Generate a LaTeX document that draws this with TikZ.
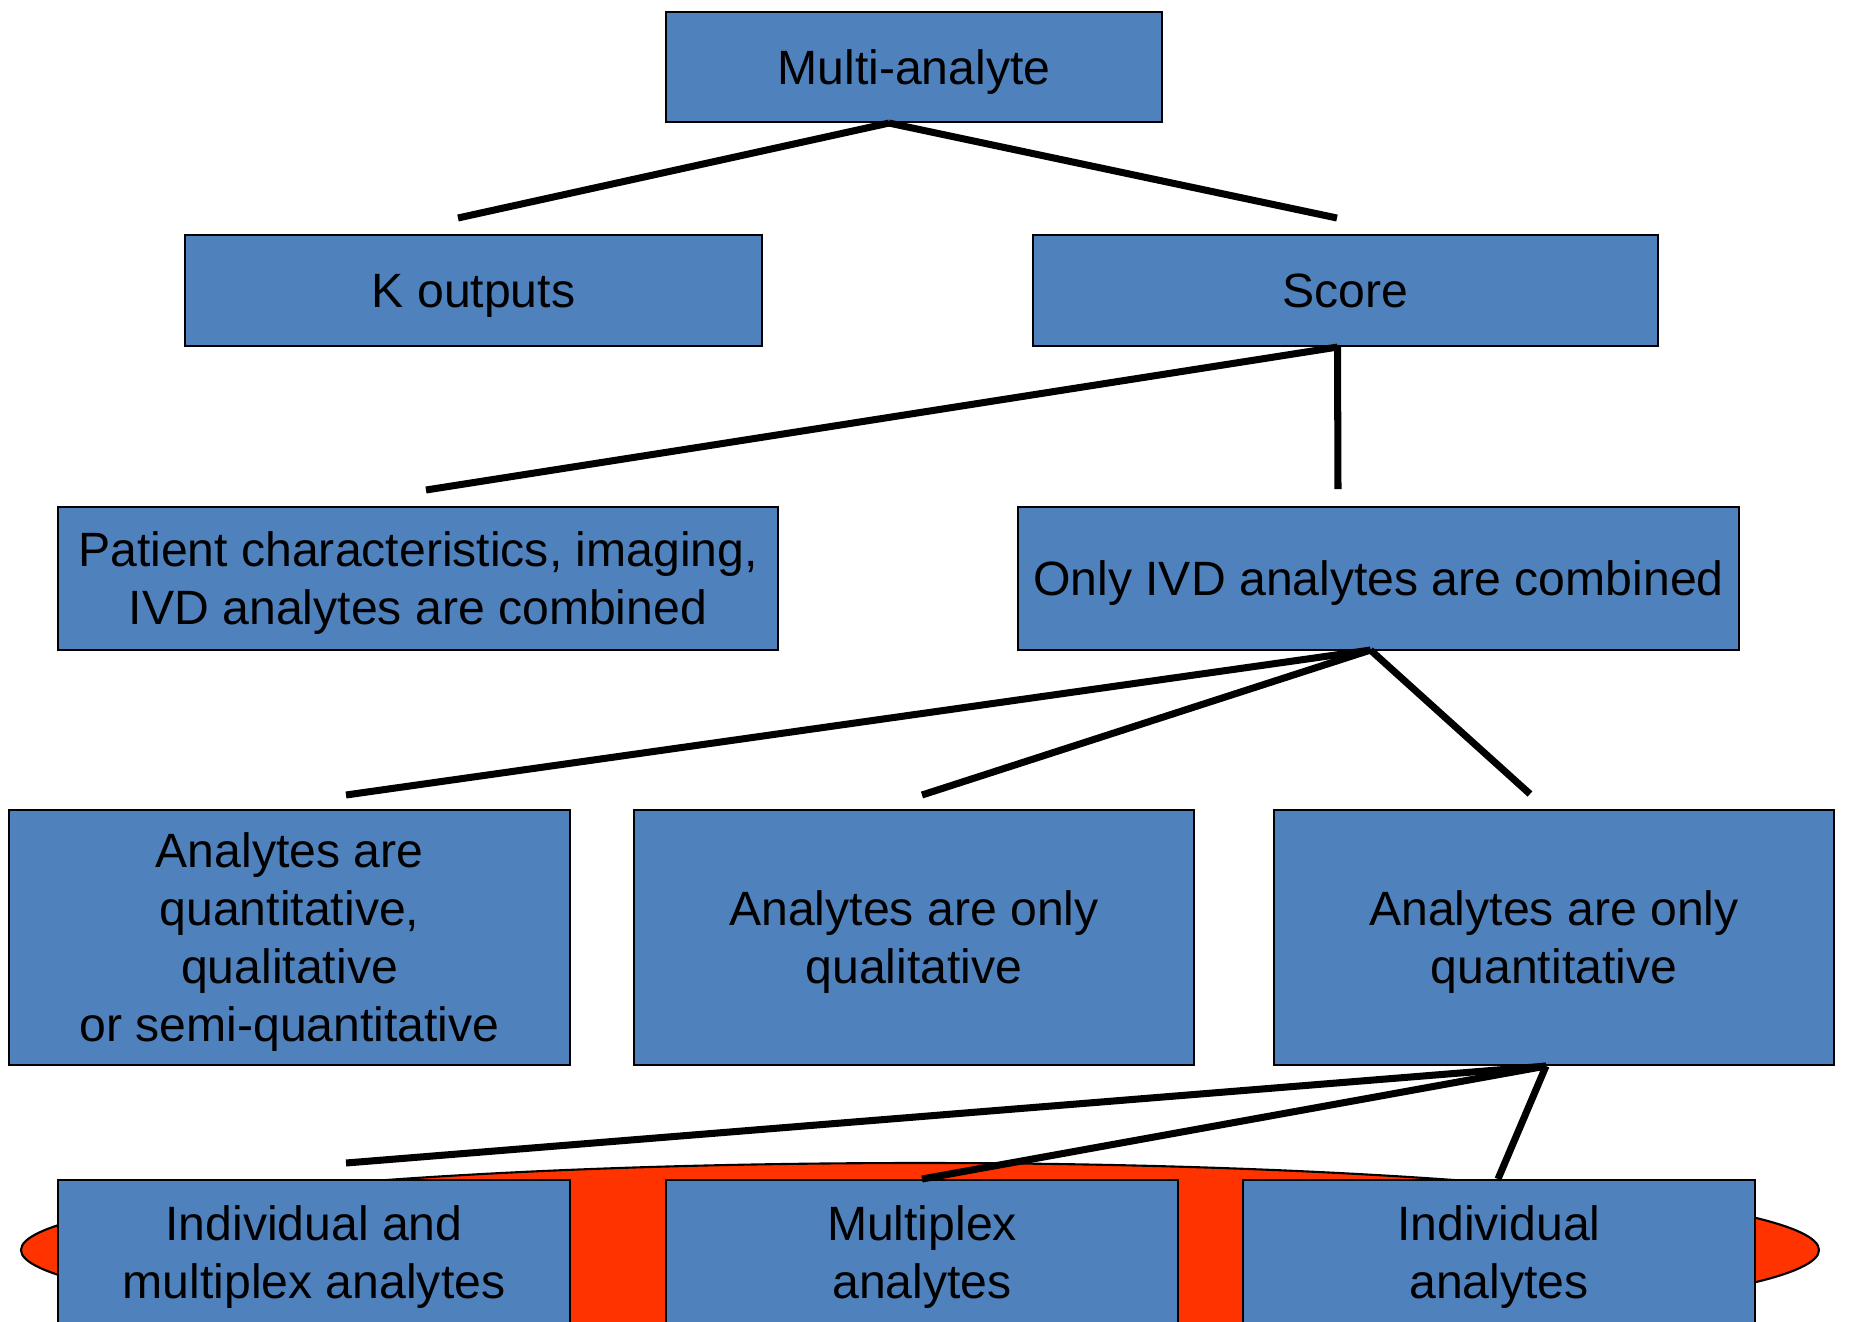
\documentclass[tikz,border=0pt]{standalone}
\usepackage{fontspec}
\setmainfont{Liberation Sans}
\usepackage{xcolor}
\usepackage{tikz}
\usetikzlibrary{calc}
\definecolor{boxBlue}{HTML}{4F81BD}
\definecolor{ovalRed}{HTML}{FF3300}
\tikzset{
	box/.style={draw=black, fill=boxBlue, line width=0.6pt, align=center, inner sep=0pt,
		font=\fontsize{13.7}{16.5}\selectfont, text height=9.8pt, text depth=0pt},
	twolines/.style={text height=26.3pt},
	fourlines/.style={text height=59.3pt},
	link/.style={black, line width=2pt}
}

\begin{document}
\begin{tikzpicture}

  \clip (0,0) rectangle (18.52,-13.21);
  \fill[white] (0,0) rectangle (18.52,-13.21);

  % red oval behind the last row
  \filldraw[fill=ovalRed, draw=black, line width=0.6pt] (9.20,-12.50) ellipse (8.99 and 0.87);

  \node[box, minimum width=4.96cm, minimum height=1.10cm] (multi) at (9.14,-0.67) {Multi-analyte};
  \node[box, minimum width=5.77cm, minimum height=1.11cm] (kout) at (4.735,-2.905) {K outputs};
  \node[box, minimum width=6.25cm, minimum height=1.11cm] (score) at (13.455,-2.905) {Score};
  \node[box, twolines, minimum width=7.20cm, minimum height=1.43cm] (patient) at (4.18,-5.785) {Patient characteristics, imaging,\\IVD analytes are combined};
  \node[box, minimum width=7.21cm, minimum height=1.43cm] (onlyivd) at (13.785,-5.785) {Only IVD analytes are combined};
  \node[box, fourlines, minimum width=5.61cm, minimum height=2.55cm] (mixed) at (2.895,-9.375) {Analytes are\\quantitative,\\qualitative\\or semi-quantitative};
  \node[box, twolines, minimum width=5.60cm, minimum height=2.55cm] (qual) at (9.14,-9.375) {Analytes are only\\qualitative};
  \node[box, twolines, minimum width=5.60cm, minimum height=2.55cm] (quant) at (15.54,-9.375) {Analytes are only\\quantitative};
  \node[box, twolines, anchor=north, minimum width=5.12cm, minimum height=1.44cm] (indmult) at (3.14,-11.79) {Individual and\\multiplex analytes};
  \node[box, twolines, anchor=north, minimum width=5.12cm, minimum height=1.44cm] (multiplex) at (9.22,-11.79) {Multiplex\\analytes};
  \node[box, twolines, anchor=north, minimum width=5.12cm, minimum height=1.44cm] (indiv) at (14.99,-11.79) {Individual\\analytes};

  \coordinate (multiJ) at ($(multi.south)+(-0.25,0)$);
  \coordinate (scoreJ) at ($(score.south)+(-0.08,0)$);
  \coordinate (ivdJ) at ($(onlyivd.south)+(-0.08,0.01)$);
  \coordinate (quantJ) at ($(quant.south)+(-0.08,0)$);

  \coordinate (kEnd) at (4.58,-2.18);
  \coordinate (sEnd) at (13.37,-2.18);
  \coordinate (pEnd) at (4.26,-4.90);
  \coordinate (oEnd) at (13.38,-4.89);
  \coordinate (mEnd) at (3.46,-7.95);
  \coordinate (qlEnd) at (9.22,-7.95);
  \coordinate (qnEnd) at (15.30,-7.94);
  \coordinate (imEnd) at (3.46,-11.63);
  \coordinate (mpEnd) at (9.22,-11.79);
  \coordinate (inEnd) at (14.98,-11.79);

  \draw[link] (multiJ) -- (kEnd);
  \draw[link] (multiJ) -- (sEnd);
  \draw[link] (scoreJ) -- (pEnd);
  \draw[link] (scoreJ) -- (oEnd);
  \draw[link] (ivdJ) -- (mEnd);
  \draw[link] (ivdJ) -- (qlEnd);
  \draw[link] (ivdJ) -- (qnEnd);
  \draw[link] (quantJ) -- (imEnd);
  \draw[link] (quantJ) -- (mpEnd);
  \draw[link] (quantJ) -- (inEnd);

\end{tikzpicture}
\end{document}
